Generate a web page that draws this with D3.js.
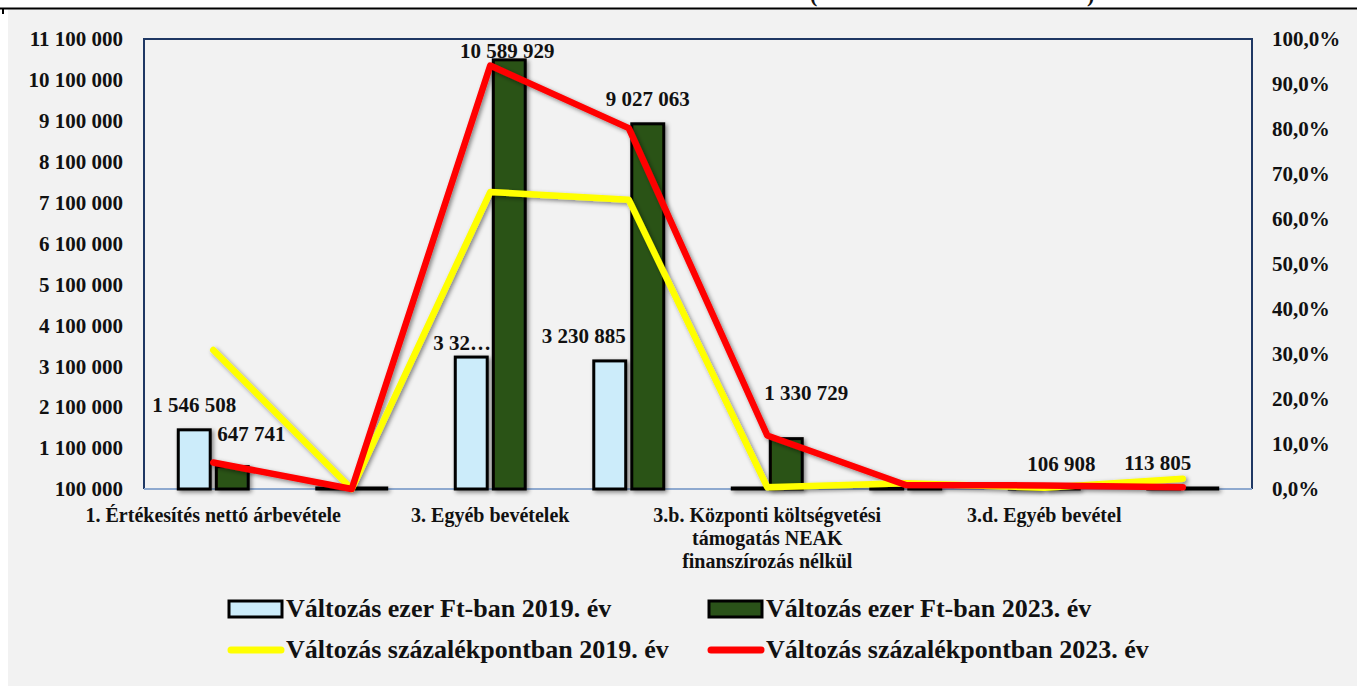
<!DOCTYPE html>
<html>
<head>
<meta charset="utf-8">
<script src="https://cdn.jsdelivr.net/npm/d3@7"></script>
<style>
  body { margin: 0; background: #ffffff; }
  text { font-family: "Liberation Serif", "DejaVu Serif", serif; font-weight: bold; fill: #111; }
</style>
</head>
<body>
<script>
// Chart data
// =================================
var categories = [
    "1. Értékesítés nettó árbevétele",
    "",
    "3. Egyéb bevételek",
    "",
    "3.b. Központi költségvetési támogatás NEAK finanszírozás nélkül",
    "",
    "3.d. Egyéb bevétel",
    ""
];
var seriesNames = [
    "Változás ezer Ft-ban 2019. év",
    "Változás ezer Ft-ban 2023. év",
    "Változás százalékpontban 2019. év",
    "Változás százalékpontban 2023. év"
];
var bars2019 = [1546508, 0, 3325000, 3230885, 0, 0, 0, 113805];
var bars2023 = [647741, 0, 10589929, 9027063, 1330729, 0, 106908, 0];
var pct2019 = [30.9, 0, 66.0, 64.3, 0.4, 1.3, 0.3, 2.3];
var pct2023 = [5.9, 0, 94.1, 80.2, 11.9, 0.9, 0.8, 0.4];
var leftTicks = d3.range(100000, 11100001, 1000000);
var rightTicks = d3.range(0, 101, 10);

// which bar values carry a data label ([series, category, text])
var barLabels = [
    [0, 0, "1 546 508"], [1, 0, "647 741"],
    [0, 2, "3 32…"], [1, 2, "10 589 929"],
    [0, 3, "3 230 885"], [1, 3, "9 027 063"],
    [1, 4, "1 330 729"], [1, 6, "106 908"], [0, 7, "113 805"]
];
// hand nudges of the labels, like in the original
var labelNudge = [[0, 0], [19, -8], [-9, 11], [-2, 16], [-26, 0], [0, 0], [20, -21], [-2, 0], [-6, 0]];

// Set up chart
// =================================
var svgWidth = 1357;
var svgHeight = 686;

var plot = { left: 144, right: 1252, top: 39, bottom: 489 };

var svg = d3.select("body")
    .append("svg")
    .attr("width", svgWidth)
    .attr("height", svgHeight);

// drop shadow used by bars and lines
var defs = svg.append("defs");
defs.append("filter")
    .attr("id", "shadow")
    .attr("x", "-20%").attr("y", "-20%")
    .attr("width", "140%").attr("height", "140%")
    .append("feDropShadow")
    .attr("dx", 2).attr("dy", 2)
    .attr("stdDeviation", 2)
    .attr("flood-color", "#000")
    .attr("flood-opacity", 0.45);

// background
svg.append("rect")
    .attr("x", 8).attr("y", 9)
    .attr("width", svgWidth - 8).attr("height", svgHeight - 9)
    .attr("fill", "#f2f2f2");

svg.append("path")
    .attr("d", "M0,8.5H1357M3,8.5V14")
    .attr("stroke", "#000")
    .attr("stroke-width", 2)
    .attr("fill", "none");

// cut-off title, only the parentheses show
svg.append("text").attr("x", 810).attr("y", 2).style("font-size", "22px").text("(");
svg.append("text").attr("x", 1087).attr("y", 2).style("font-size", "22px").text(")");

// Scales
// =================================
var idx = d3.range(categories.length);

var x0 = d3.scaleBand()
    .domain(idx)
    .range([plot.left, plot.right])
    .paddingInner(0.495)
    .paddingOuter(0.2475);

var x1 = d3.scaleBand()
    .domain([0, 1])
    .range([0, x0.bandwidth()])
    .paddingInner(0.16);

var yLeft = d3.scaleLinear()
    .domain([100000, 11100000])
    .range([plot.bottom, plot.top]);

var yRight = d3.scaleLinear()
    .domain([0, 100])
    .range([plot.bottom, plot.top]);

var step = x0.step();
var center = i => x0(i) + x0.bandwidth() / 2;

// Plot frame
// =================================
svg.append("path")
    .attr("d", `M${plot.left},${plot.bottom}V${plot.top}H${plot.right}V${plot.bottom}`)
    .attr("fill", "none")
    .attr("stroke", "#1f3864")
    .attr("stroke-width", 2);

svg.append("line")
    .attr("x1", plot.left).attr("x2", plot.right)
    .attr("y1", plot.bottom).attr("y2", plot.bottom)
    .attr("stroke", "#8ea9cf")
    .attr("stroke-width", 2);

// Axes
// =================================
var spaceFmt = d => d3.format(",")(d).replace(/,/g, " ");
var pctFmt = d => d3.format(".1f")(d).replace(".", ",") + "%";

var leftAxis = svg.append("g")
    .attr("transform", `translate(${plot.left}, 0)`)
    .call(d3.axisLeft(yLeft).tickValues(leftTicks).tickFormat(spaceFmt).tickSize(0).tickPadding(21));

var rightAxis = svg.append("g")
    .attr("transform", `translate(${plot.right}, 0)`)
    .call(d3.axisRight(yRight).tickValues(rightTicks).tickFormat(pctFmt).tickSize(0).tickPadding(20));

[leftAxis, rightAxis].forEach(function (ax) {
    ax.select(".domain").remove();
    ax.selectAll("text")
        .attr("font-family", null)
        .style("font-size", "21px")
        .attr("fill", "#111");
});

// category labels, wrapped like excel does
var catGroup = svg.append("g");
idx.forEach(function (i) {
    if (!categories[i]) return;
    var t = catGroup.append("text")
        .attr("x", center(i))
        .attr("y", 522)
        .attr("text-anchor", "middle")
        .style("font-size", "20px");
    var words = categories[i].split(" ");
    var line = [];
    var tspan = t.append("tspan").attr("x", center(i)).attr("dy", 0);
    words.forEach(function (w) {
        line.push(w);
        tspan.text(line.join(" "));
        if (tspan.node().getComputedTextLength() > step * 2 - 10 && line.length > 1) {
            line.pop();
            tspan.text(line.join(" "));
            line = [w];
            tspan = t.append("tspan").attr("x", center(i)).attr("dy", 23).text(w);
        }
    });
});

// Bars
// =================================
var barColors = ["#ccecfa", "#2a5219"];
var barData = [];
idx.forEach(function (i) {
    barData.push({ s: 0, i: i, v: bars2019[i] });
    barData.push({ s: 1, i: i, v: bars2023[i] });
});

svg.append("g")
    .attr("filter", "url(#shadow)")
    .selectAll("rect")
    .data(barData)
    .enter()
    .append("rect")
    .attr("x", d => x0(d.i) + x1(d.s))
    .attr("y", d => Math.min(yLeft(Math.max(d.v, 100000)), plot.bottom - 1))
    .attr("width", x1.bandwidth())
    .attr("height", d => Math.max(plot.bottom - yLeft(Math.max(d.v, 100000)), 1))
    .attr("fill", d => barColors[d.s])
    .attr("stroke", "#000")
    .attr("stroke-width", 3);

// Lines
// =================================
var lineGen = d3.line()
    .x((d, i) => center(i))
    .y(d => yRight(d));

var lineGroup = svg.append("g").attr("filter", "url(#shadow)");
[[pct2019, "#ffff00"], [pct2023, "#ff0000"]].forEach(function (s) {
    lineGroup.append("path")
        .datum(s[0])
        .attr("d", lineGen)
        .attr("fill", "none")
        .attr("stroke", s[1])
        .attr("stroke-width", 6.5)
        .attr("stroke-linejoin", "round")
        .attr("stroke-linecap", "round");
});

// Data labels
// =================================
svg.append("g")
    .selectAll("text")
    .data(barLabels)
    .enter()
    .append("text")
    .attr("x", (d, k) => x0(d[1]) + x1(d[0]) + x1.bandwidth() / 2 + labelNudge[k][0])
    .attr("y", function (d, k) {
        var v = d[0] === 0 ? bars2019[d[1]] : bars2023[d[1]];
        return yLeft(Math.max(v, 100000)) - 18 + labelNudge[k][1];
    })
    .attr("text-anchor", "middle")
    .style("font-size", "21px")
    .text(d => d[2]);

// Legend
// =================================
var legend = svg.append("g");
var legendPos = [[229, 609], [709, 609], [229, 650], [709, 650]];

seriesNames.forEach(function (name, k) {
    var p = legendPos[k];
    if (k < 2) {
        legend.append("rect")
            .attr("x", p[0]).attr("y", p[1] - 8)
            .attr("width", 53).attr("height", 16)
            .attr("fill", barColors[k])
            .attr("stroke", "#000")
            .attr("stroke-width", 3);
    } else {
        legend.append("line")
            .attr("x1", p[0] + 2).attr("x2", p[0] + 52)
            .attr("y1", p[1]).attr("y2", p[1])
            .attr("stroke", k === 2 ? "#ffff00" : "#ff0000")
            .attr("stroke-width", 7)
            .attr("stroke-linecap", "round");
    }
    legend.append("text")
        .attr("x", p[0] + 57)
        .attr("y", p[1] + 8)
        .style("font-size", "26px")
        .text(name);
});
</script>
</body>
</html>
